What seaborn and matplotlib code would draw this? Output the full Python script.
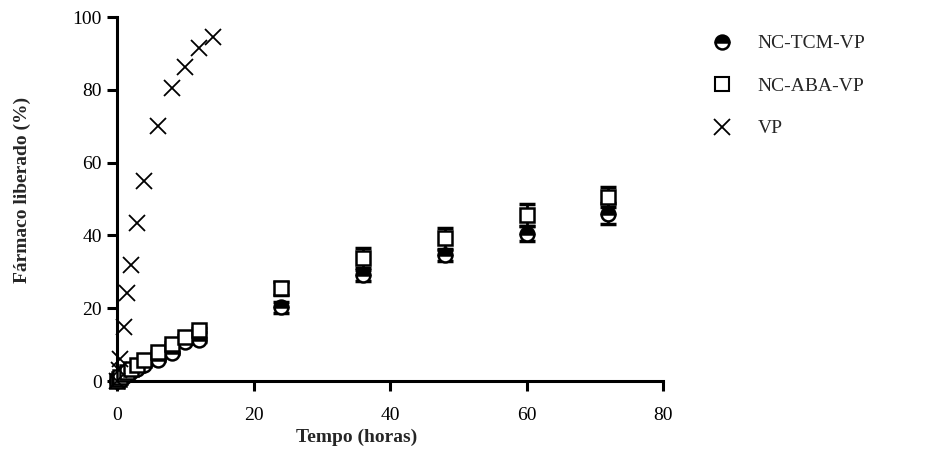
import matplotlib
matplotlib.use("Agg")
import matplotlib.pyplot as plt
import seaborn as sns
import numpy as np
import pandas as pd
from matplotlib.lines import Line2D

# ---- data ----
t_nc = [0, 0.25, 0.5, 1, 1.5, 2, 3, 4, 6, 8, 10, 12, 24, 36, 48, 60, 72]
tcm_mean = [0, 0.3, 0.6, 1.2, 2.0, 2.5, 3.3, 4.4, 5.8, 7.6, 10.8, 11.3, 20.3, 29.0, 34.5, 40.5, 46.0]
tcm_sd = [0, 0, 0, 0, 0, 0, 0, 0, 0.3, 0.3, 0.4, 0.5, 1.5, 1.5, 1.5, 2.0, 3.0]
aba_mean = [0, 0.5, 1.0, 1.8, 2.5, 3.3, 4.5, 5.8, 8.0, 10.3, 12.2, 14.0, 25.5, 33.8, 39.2, 45.6, 50.6]
aba_sd = [0, 0, 0, 0, 0, 0, 0, 0, 0.3, 0.3, 0.4, 0.5, 1.8, 2.8, 2.8, 3.0, 2.8]
t_vp = [0, 0.25, 0.5, 1, 1.5, 2, 3, 4, 6, 8, 10, 12, 14]
vp_mean = [0, 3.0, 6.0, 14.8, 24.2, 32.0, 43.5, 55.0, 70.0, 80.5, 86.2, 91.5, 94.5]

labels = ["NC-TCM-VP", "NC-ABA-VP", "VP"]
x_ticks = [0, 20, 40, 60, 80]
y_ticks = [0, 20, 40, 60, 80, 100]

sns.set_style("ticks")
plt.rcParams['font.family'] = ['Liberation Serif', 'DejaVu Serif']

fig = plt.figure(figsize=(9.25, 4.74), dpi=100)
ax = fig.add_axes([117/925, 93/474, 546/925, 364/474])

df_tcm = pd.DataFrame({"t": t_nc, "y": tcm_mean})
df_aba = pd.DataFrame({"t": t_nc, "y": aba_mean})
df_vp = pd.DataFrame({"t": t_vp, "y": vp_mean})

ms = 10
# error bars
ax.errorbar(t_nc, tcm_mean, yerr=tcm_sd, fmt='none', ecolor='black',
            elinewidth=2, capsize=5.5, capthick=2.5, zorder=2, clip_on=False)
sns.lineplot(data=df_tcm, x="t", y="y", ax=ax, marker='o', linestyle='none',
             markersize=ms, fillstyle='top', markerfacecolor='black',
             markerfacecoloralt='white', markeredgecolor='black',
             markeredgewidth=1.8, clip_on=False, zorder=3, estimator=None)
ax.errorbar(t_nc, aba_mean, yerr=aba_sd, fmt='none', ecolor='black',
            elinewidth=2, capsize=5.5, capthick=2.5, zorder=4, clip_on=False)
sns.lineplot(data=df_aba, x="t", y="y", ax=ax, marker='s', linestyle='none',
             markersize=ms, markerfacecolor='white', markeredgecolor='black',
             markeredgewidth=1.8, clip_on=False, zorder=5, estimator=None)
sns.lineplot(data=df_vp, x="t", y="y", ax=ax, marker='x', linestyle='none',
             markersize=11, color='black', markeredgecolor='black',
             markeredgewidth=1.3, clip_on=False, zorder=6, estimator=None)

ax.set_xlim(0, 80)
ax.set_ylim(0, 100)
ax.set_xticks(x_ticks)
ax.set_yticks(y_ticks)
sns.despine(ax=ax)
for s in ['left', 'bottom']:
    ax.spines[s].set_linewidth(2.2)
    ax.spines[s].set_color('black')
ax.tick_params(axis='both', width=2.2, length=7, color='black',
               labelsize=14, labelcolor='black')
ax.tick_params(axis='x', pad=12)
ax.tick_params(axis='y', pad=4)

ax.set_xlabel("Tempo (horas)", fontsize=14, fontweight='bold')
ax.set_ylabel("Fármaco liberado (%)", fontsize=14, fontweight='bold')
ax.xaxis.set_label_coords((357 - 117) / 546, -(437 - 381) / 364)
ax.yaxis.set_label_coords(-(117 - 22) / 546, (381 - 190) / 364)
ax.xaxis.label.set_verticalalignment('center')
ax.yaxis.label.set_verticalalignment('center')

handles = [
    Line2D([], [], marker='o', linestyle='none', markersize=ms, fillstyle='top',
           markerfacecolor='black', markerfacecoloralt='white',
           markeredgecolor='black', markeredgewidth=1.8),
    Line2D([], [], marker='s', linestyle='none', markersize=ms,
           markerfacecolor='white', markeredgecolor='black', markeredgewidth=1.5),
    Line2D([], [], marker='x', linestyle='none', markersize=11,
           color='black', markeredgewidth=1.3),
]
fig.legend(handles, labels, loc='upper left', bbox_to_anchor=(0.759, 0.943),
           frameon=False, fontsize=14, handlelength=1.2, handletextpad=1.25,
           labelspacing=1.28, borderaxespad=0)

fig.savefig("out.png", dpi=100)
